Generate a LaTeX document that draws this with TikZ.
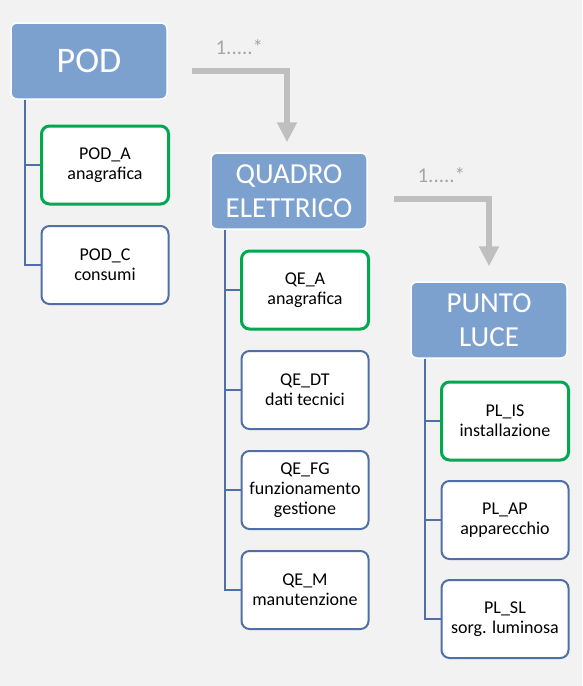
\documentclass[tikz,border=0pt]{standalone}
\usepackage{fontspec}
\setmainfont{Carlito}
\usetikzlibrary{arrows.meta}                         %allows the Triangle arrow tip.

% Define colours.
\definecolor{headblue}{RGB}{125,161,206}
\definecolor{itemblue}{RGB}{79,111,166}
\definecolor{keygreen}{RGB}{0,168,80}
\definecolor{linkgray}{RGB}{191,191,191}
\definecolor{multgray}{RGB}{166,166,166}
\definecolor{canvas}{RGB}{242,242,242}

\tikzset{
  head/.style={rounded corners=6pt, fill=headblue, draw=white, line width=1.5pt,
    minimum width=156pt, minimum height=76pt, inner sep=0pt, align=center,
    text=white, font=\fontsize{29}{34}\selectfont},
  item/.style={rounded corners=8pt, fill=white, draw=itemblue, line width=2pt,
    minimum width=127pt, minimum height=78pt, inner sep=0pt, align=center,
    font=\fontsize{18}{20}\selectfont},
  keyitem/.style={item, draw=keygreen, line width=3pt},
  tree/.style={draw=itemblue, line width=2pt},
  link/.style={draw=linkgray, line width=6pt, -{Triangle[width=19pt,length=20pt]}},
  mult/.style={text=multgray, font=\fontsize{21}{24}\selectfont},
}

\begin{document}
\begin{tikzpicture}[x=1pt,y=-1pt]

% Background and page size.
\fill[canvas] (0,0) rectangle (582,686);
\useasboundingbox (0,0) rectangle (582,686);

% POD
\node[head, font=\fontsize{36}{40}\selectfont] (pod) at (89,61) {POD};
\node[keyitem] (poda) at (105,165) {POD\_A\\anagrafica};
\node[item]    (podc) at (105,265) {POD\_C\\consumi};

% QUADRO ELETTRICO
\node[head] (qe) at (289,191) {QUADRO\\ELETTRICO};
\node[keyitem] (qea)  at (305,290) {QE\_A\\anagrafica};
\node[item]    (qedt) at (305,390) {QE\_DT\\dati tecnici};
\node[item]    (qefg) at (305,490) {QE\_FG\\funzionamento\\gestione};
\node[item]    (qem)  at (305,590) {QE\_M\\manutenzione};

% PUNTO LUCE
\node[head] (pl) at (489,320) {PUNTO\\LUCE};
\node[keyitem] (plis) at (505,421) {PL\_IS\\installazione};
\node[item]    (plap) at (505,520) {PL\_AP\\apparecchio};
\node[item]    (plsl) at (505,619) {PL\_SL\\sorg. luminosa};

% Tree lines from each head to its tables.
\foreach \sub in {poda,podc}{\draw[tree] (pod.south west) ++(15,0) |- (\sub.west);}
\foreach \sub in {qea,qedt,qefg,qem}{\draw[tree] (qe.south west) ++(15,0) |- (\sub.west);}
\foreach \sub in {plis,plap,plsl}{\draw[tree] (pl.south west) ++(15,0) |- (\sub.west);}

% One-to-many links.
\draw[link] ([shift={(24,10)}]pod.east) -| ([shift={(-2,-10)}]qe.north)
  node[mult, pos=0.25, yshift=24pt] {1.....*};
\draw[link] ([shift={(26,8)}]qe.east) -| ([yshift=15pt]pl.north)
  node[mult, pos=0.25, yshift=24pt] {1.....*};

\end{tikzpicture}
\end{document}
